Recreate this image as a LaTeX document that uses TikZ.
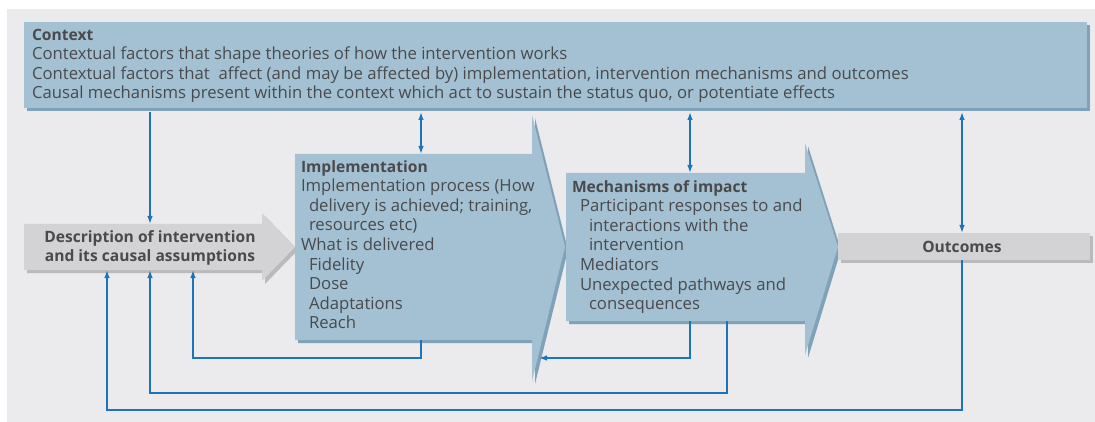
\documentclass[tikz,border=0pt]{standalone}
\usepackage{fontspec}
\setmainfont{Open Sans}
\usetikzlibrary{arrows.meta,shadows}
\definecolor{bgc}{RGB}{235,235,237}
\definecolor{bluef}{RGB}{163,193,211}
\definecolor{blues}{RGB}{127,162,184}
\definecolor{grayf}{RGB}{211,211,213}
\definecolor{grays}{RGB}{186,186,189}
\definecolor{txtc}{RGB}{74,74,76}
\definecolor{linkc}{RGB}{28,117,188}
\newcommand\boldt[1]{{\fontsize{15.6}{19.6}\selectfont\bfseries #1}}
\begin{document}
\begin{tikzpicture}[x=1pt,y=-1pt,
  txtf/.style={font=\fontsize{16.7}{19.6}\selectfont, text=txtc, inner sep=0pt, outer sep=0pt},
  blueshape/.style={fill=bluef, drop shadow={shadow xshift=3pt, shadow yshift=-3pt, fill=blues, opacity=1}},
  grayshape/.style={fill=grayf, drop shadow={shadow xshift=3pt, shadow yshift=-3pt, fill=grays, opacity=1}},
  anchorbox/.style={inner sep=0pt, outer sep=0pt, anchor=north west},
  link/.style={draw=linkc, line width=1.3pt},
  tipend/.style={-{Latex[length=8pt,width=5.5pt]}},
  tipboth/.style={{Latex[length=8pt,width=5.5pt]}-{Latex[length=8pt,width=5.5pt]}}]
\useasboundingbox (0,0) rectangle (1095,422);
\fill[bgc] (7,9) rectangle (1095,422);

% Context
\node[anchorbox, blueshape, minimum width=1063pt, minimum height=86pt] (ctx) at (24,22) {};
\node[txtf, anchor=north west, align=left] (ctxt) at (32,26.3)
  {\strut\boldt{Context}\\
   Contextual factors that shape theories of how the intervention works\\
   Contextual factors that\ \ affect (and may be affected by) implementation, intervention mechanisms and outcomes\\
   Causal mechanisms present within the context which act to sustain the status quo, or potentiate effects};

% Description arrow
\path[grayshape] (24,224) -- (262,224) -- (262,213) -- (295,247) -- (262,281) -- (262,270) -- (24,270) -- cycle;
\node[anchorbox, minimum width=238pt, minimum height=46pt] (desc) at (24,224) {};
\node[txtf, anchor=north, align=center] (desct) at (150,228.3)
  {\strut\boldt{Description of intervention}\\\boldt{and its causal assumptions}};

% Implementation arrow
\path[blueshape] (295,154) -- (532,154) -- (532,115) -- (565,247) -- (532,381) -- (532,340) -- (295,340) -- cycle;
\node[anchorbox, minimum width=237pt, minimum height=186pt] (impl) at (295,154) {};
\node[txtf, anchor=north west, align=left] (implt) at (301,158.3)
  {\strut\boldt{Implementation}\\
   Implementation process (How\\
   \hspace*{8pt}delivery is achieved; training,\\
   \hspace*{8pt}resources etc)\\
   What is delivered\\
   \hspace*{8pt}Fidelity\\
   \hspace*{8pt}Dose\\
   \hspace*{8pt}Adaptations\\
   \hspace*{8pt}Reach};

% Mechanisms arrow
\path[blueshape] (566,173) -- (805,173) -- (805,143) -- (838,247) -- (805,355) -- (805,321) -- (566,321) -- cycle;
\node[anchorbox, minimum width=239pt, minimum height=148pt] (mech) at (566,173) {};
\node[txtf, anchor=north west, align=left] (mecht) at (572,178.3)
  {\strut\boldt{Mechanisms of impact}\\
   \hspace*{8pt}Participant responses to and\\
   \hspace*{17pt}interactions with the\\
   \hspace*{17pt}intervention\\
   \hspace*{8pt}Mediators\\
   \hspace*{8pt}Unexpected pathways and\\
   \hspace*{17pt}consequences};

% Outcomes
\node[anchorbox, grayshape, minimum width=252pt, minimum height=27pt] (outc) at (838,233) {};
\node[txtf, anchor=base] (outct) at (962,252) {\boldt{Outcomes}};

% helper coordinates
\coordinate (ctxb) at ([yshift=-4pt]ctx.south);
\coordinate (xa) at (107,0);
\coordinate (xb) at (150,0);
\coordinate (xc) at (193,0);
\coordinate (xd) at (421,0);
\coordinate (xe) at (690,0);
\coordinate (xf) at (727,0);
\coordinate (xg) at (962,0);
\coordinate (ra) at (0,358);
\coordinate (rb) at (0,393);
\coordinate (rc) at (0,410);
\coordinate (ihl) at (539,358);

% connectors
\draw[link, tipend] (ctxb -| xb) -- (desc.north -| xb);
\draw[link, tipboth] (ctxb -| xd) -- (impl.north -| xd);
\draw[link, tipboth] (ctxb -| xe) -- (mech.north -| xe);
\draw[link, tipboth] (ctxb -| xg) -- (outc.north -| xg);
\draw[link, tipend] (impl.south -| xd) -- (xd |- ra) -| (desc.south -| xc);
\draw[link, tipend] (mech.south -| xe) |- (ihl);
\draw[link, tipend] (mech.south -| xf) -- (xf |- rb) -| (desc.south -| xb);
\draw[link, tipend] (outc.south -| xg) -- (xg |- rc) -| (desc.south -| xa);
\end{tikzpicture}
\end{document}
